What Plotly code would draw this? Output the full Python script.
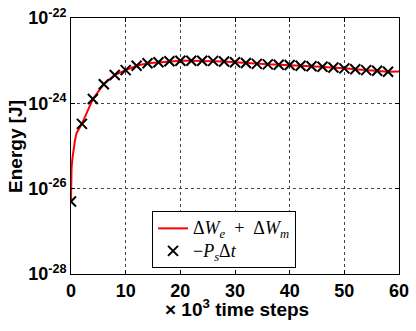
import plotly.graph_objects as go

# Marker series: -P_s * dt
x_markers = [0, 2, 4, 6, 8, 10, 12, 14, 16, 18, 20, 22, 24, 26, 28,
             30, 32, 34, 36, 38, 40, 42, 44, 46, 48, 50, 52, 54, 56, 58]
y_markers = [5.0e-27, 3.3e-25, 1.26e-24, 2.8e-24, 4.6e-24, 6.0e-24, 7.6e-24,
             8.7e-24, 9.2e-24, 9.7e-24, 1.0e-23, 1.0e-23, 1.0e-23, 9.9e-24,
             9.6e-24, 9.2e-24, 8.8e-24, 8.4e-24, 8.2e-24, 8.0e-24, 7.9e-24,
             7.6e-24, 7.4e-24, 7.2e-24, 6.9e-24, 6.6e-24, 6.3e-24, 6.0e-24,
             5.8e-24, 5.5e-24]

# Line series: dW_e + dW_m
x_line = [0, 0.05, 0.1, 0.25, 0.42, 0.7, 1, 1.5, 2, 3, 4, 6, 8, 10, 12, 14,
          16, 18, 20, 22, 24, 26, 28, 30, 32, 34, 36, 38, 40, 42, 44, 46, 48,
          50, 52, 54, 56, 58, 60]
y_line = [5.0e-27, 1.5e-26, 3.0e-26, 5.0e-26, 8.0e-26, 1.3e-25, 2.0e-25,
          2.6e-25, 3.3e-25, 6.5e-25, 1.26e-24, 2.8e-24, 4.6e-24, 6.0e-24,
          7.6e-24, 8.7e-24, 9.2e-24, 9.7e-24, 1.0e-23, 1.0e-23, 1.0e-23,
          9.9e-24, 9.6e-24, 9.2e-24, 8.8e-24, 8.4e-24, 8.2e-24, 8.0e-24,
          7.9e-24, 7.6e-24, 7.4e-24, 7.2e-24, 6.9e-24, 6.6e-24, 6.3e-24,
          6.0e-24, 5.8e-24, 5.5e-24, 5.6e-24]

x_ticks = [0, 10, 20, 30, 40, 50, 60]
y_tickvals = [1e-28, 1e-26, 1e-24, 1e-22]
y_ticktext = ["<b>10<sup>-28</sup></b>", "<b>10<sup>-26</sup></b>",
              "<b>10<sup>-24</sup></b>", "<b>10<sup>-22</sup></b>"]

line_name = ('<span style="font-size:18px">Δ<i>W</i><sub><i>e</i></sub>'
             '\u2002+\u2002Δ<i>W</i><sub><i>m</i></sub></span>')
marker_name = ('<span style="font-size:18px">−<i>P</i><sub><i>s</i></sub>'
               'Δ<i>t</i></span>')

fig = go.Figure()
fig.add_trace(go.Scatter(
    x=x_line, y=y_line, mode="lines",
    line=dict(color="red", width=2),
    name=line_name,
))
fig.add_trace(go.Scatter(
    x=x_markers, y=y_markers, mode="markers",
    marker=dict(symbol="x-thin", size=10, color="black",
                line=dict(width=2, color="black")),
    name=marker_name,
))

tick_font = dict(family="Liberation Sans", size=18, color="black")
title_font = dict(family="Liberation Sans", size=19, color="black")

fig.update_layout(
    width=416, height=331,
    margin=dict(l=71, r=17, t=18, b=57, autoexpand=False),
    paper_bgcolor="white", plot_bgcolor="white",
    showlegend=True,
    legend=dict(
        x=0.247, y=0.023, xanchor="left", yanchor="bottom",
        bgcolor="white", bordercolor="black", borderwidth=1,
        font=dict(family="Liberation Serif", size=15, color="black"),
        tracegroupgap=0, itemwidth=30,
    ),
    xaxis=dict(
        range=[0, 60], tickvals=x_ticks,
        ticktext=[f"<b>{v}</b>" for v in x_ticks],
        tickfont=tick_font, automargin=False,
        showgrid=True, gridcolor="#444", griddash="dot", gridwidth=1,
        showline=True, linecolor="black", linewidth=1, mirror="ticks",
        ticks="inside", ticklen=4, tickcolor="black",
        zeroline=False,
    ),
    yaxis=dict(
        type="log", range=[-28, -22],
        tickvals=y_tickvals, ticktext=y_ticktext,
        tickfont=tick_font, automargin=False,
        showgrid=True, gridcolor="#444", griddash="dot", gridwidth=1,
        showline=True, linecolor="black", linewidth=1, mirror="ticks",
        ticks="inside", ticklen=4, tickcolor="black",
        zeroline=False,
    ),
    annotations=[
        dict(text="<b>× 10<sup>3</sup> time steps</b>", xref="paper", yref="paper",
             x=0.505, y=-0.133, xanchor="center", yanchor="middle",
             showarrow=False, font=title_font),
        dict(text="<b>Energy [J]</b>", xref="paper", yref="paper",
             x=-0.171, y=0.5, xanchor="center", yanchor="middle", textangle=-90,
             showarrow=False, font=title_font),
    ],
)

fig.write_html("out.html", config={"displayModeBar": False},
               post_script="document.body.style.margin='0';document.body.style.padding='0';")
